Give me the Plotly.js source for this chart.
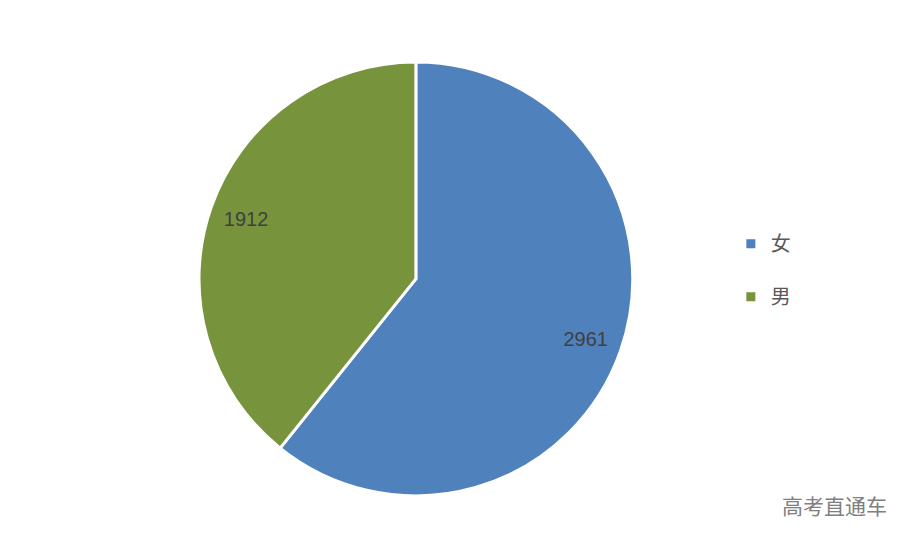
<!DOCTYPE html>
<html><head><meta charset="utf-8">
<script src="https://cdn.plot.ly/plotly-3.0.1.min.js"></script>
<style>html,body{margin:0;padding:0;background:#fff}</style>
</head><body>
<div id="chart" style="width:917px;height:548px"></div>
<script>
const categories = ['女', '男'];
const values = [2961, 1912];
const colors = ['#4F81BD', '#77933C'];

const dom = {x: [0.217, 0.690], y: [0.095, 0.887]};
const traces = [{
  type: 'pie',
  labels: categories,
  values: values,
  sort: false,
  direction: 'clockwise',
  rotation: 0,
  marker: {colors: colors, line: {color: '#ffffff', width: 3}},
  textinfo: 'none',
  hoverinfo: 'label+value',
  domain: dom,
  showlegend: false
}, {
  // transparent ring that carries the data labels near the rim
  type: 'pie',
  labels: categories,
  values: values,
  sort: false,
  direction: 'clockwise',
  rotation: 0,
  hole: 0.66,
  marker: {colors: ['rgba(0,0,0,0)', 'rgba(0,0,0,0)'], line: {width: 0}},
  textinfo: 'value',
  textposition: 'inside',
  insidetextorientation: 'horizontal',
  textfont: {family: 'Liberation Sans, sans-serif', size: 20, color: '#404040'},
  hoverinfo: 'skip',
  domain: dom,
  showlegend: false
}];
categories.forEach((c, i) => {
  traces.push({
    type: 'scatter', mode: 'markers', x: [null], y: [null],
    name: c, legendgroup: 'g' + i,
    marker: {symbol: 'square', size: 9, color: colors[i]},
    showlegend: true
  });
});

const layout = {
  width: 917, height: 548,
  margin: {l: 0, r: 0, t: 0, b: 0},
  paper_bgcolor: '#ffffff', plot_bgcolor: '#ffffff',
  xaxis: {visible: false}, yaxis: {visible: false},
  showlegend: true,
  legend: {
    x: 0.797, y: 0.507, xanchor: 'left', yanchor: 'middle',
    font: {family: 'Noto Sans CJK SC, sans-serif', size: 20, color: '#595959'},
    tracegroupgap: 24, itemwidth: 30,
    bgcolor: 'rgba(0,0,0,0)'
  },
  annotations: [{
    text: '高考直通车', xref: 'paper', yref: 'paper',
    x: 0.970, y: 0.048, xanchor: 'right', yanchor: 'bottom', showarrow: false,
    font: {family: 'Noto Sans CJK SC, sans-serif', size: 21, color: '#7f7f7f'}
  }]
};
Plotly.newPlot('chart', traces, layout, {displayModeBar: false, staticPlot: true});
</script>
</body></html>
